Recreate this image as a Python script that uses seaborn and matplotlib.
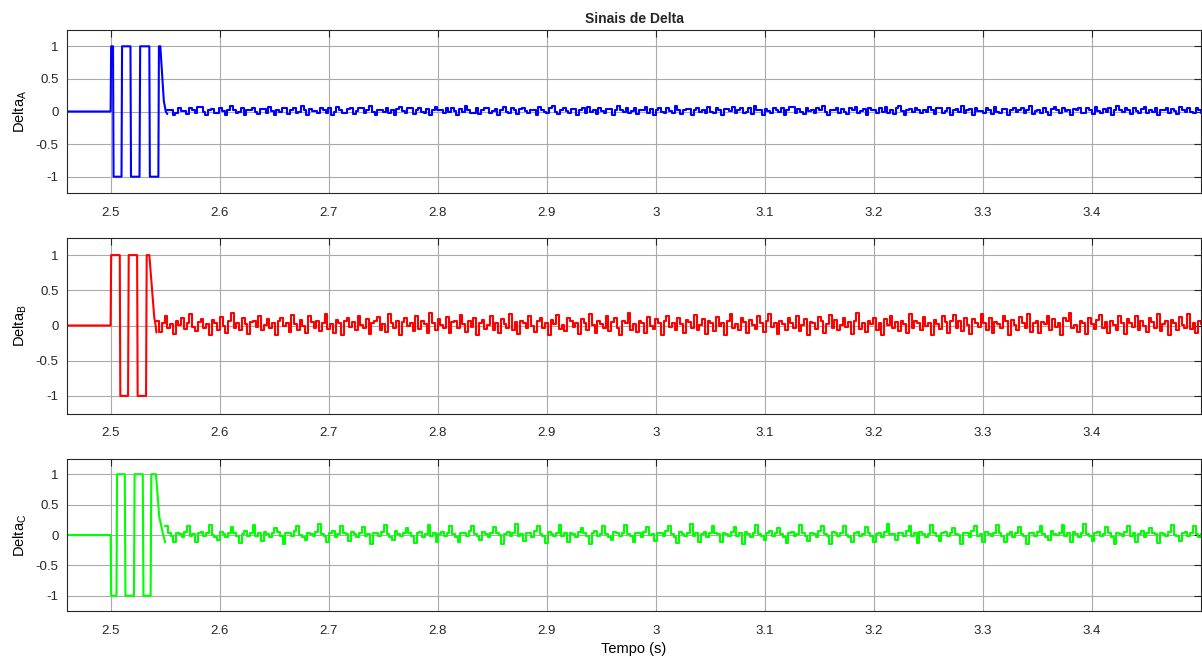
import numpy as np
import pandas as pd
import matplotlib
matplotlib.use("Agg")
import matplotlib.pyplot as plt
import seaborn as sns

# ---- x axis ----
x_limits = [2.46, 3.5]
x_ticks = [2.5, 2.6, 2.7, 2.8, 2.9, 3.0, 3.1, 3.2, 3.3, 3.4]
x_tick_labels = ["2.5", "2.6", "2.7", "2.8", "2.9", "3", "3.1", "3.2", "3.3", "3.4"]
y_ticks = [-1, -0.5, 0, 0.5, 1]
y_tick_labels = ["-1", "-0.5", "0", "0.5", "1"]

# ---- switching transient (time, value) ----
delta_a_t = [2.46, 2.5, 2.5005, 2.5022, 2.5027, 2.5100, 2.5105, 2.5182, 2.5187,
             2.5265, 2.5271, 2.5355, 2.5360, 2.5438, 2.5443, 2.5456, 2.5488,
             2.5506, 2.552]
delta_a_v = [0, 0, 1, 1, -1, -1, 1, 1, -1, -1, 1, 1, -1, -1, 1, 1, 0.16, 0.0, -0.04]

delta_b_t = [2.46, 2.5, 2.5005, 2.5084, 2.5089, 2.5160, 2.5166, 2.5243, 2.5248,
             2.5325, 2.5331, 2.5355, 2.5400, 2.5413, 2.5420]
delta_b_v = [0, 0, 1, 1, -1, -1, 1, 1, -1, -1, 1, 1, 0.12, 0.0, -0.10]

delta_c_t = [2.46, 2.5, 2.5005, 2.5054, 2.5059, 2.5130, 2.5136, 2.5214, 2.5220,
             2.5295, 2.5301, 2.5367, 2.5373, 2.5416, 2.5446, 2.5476, 2.5500]
delta_c_v = [0, 0, -1, -1, 1, 1, -1, -1, 1, 1, -1, -1, 1, 1, 0.30, 0.05, -0.12]

# ---- steady-state ripple samples ----
ripple_a_start = 2.552
ripple_a = [
    0.03, 0.03, -0.05, -0.02, 0.06, 0.01, 0.01, -0.04, 0.05, 0.02,
    -0.03, 0.07, 0.07, 0.00, -0.06, 0.02, 0.04, -0.02, -0.02, 0.06,
    0.01, -0.05, 0.03, 0.08, 0.03, -0.03, 0.00, 0.05, -0.06, 0.02,
    0.02, 0.06, -0.01, -0.04, 0.04, 0.04, -0.02, 0.07, 0.01, -0.05,
    0.03, -0.01, 0.06, 0.06, -0.04, 0.02, 0.05, -0.03, 0.00, 0.08,
    0.02, -0.06, 0.04, 0.01, 0.01, -0.03, 0.06, 0.03, -0.02, 0.05,
    -0.05, 0.00, 0.07, 0.02, -0.02, -0.02, 0.04, 0.06, -0.04, 0.01,
    0.05, 0.05, -0.03, 0.02, 0.08, -0.01, -0.06, 0.03, 0.03, 0.00,
    0.06, -0.02, 0.02, -0.05, 0.04, 0.07, 0.01, -0.03, 0.05, 0.05,
    -0.04, 0.02, 0.06, 0.00, -0.02, 0.04, -0.06, 0.03, 0.07, 0.02,
    0.02, -0.03, 0.05, -0.01, 0.06, 0.01, -0.05, 0.04, 0.00, 0.08,
    0.03, -0.02, -0.02, 0.05, -0.04, 0.02, 0.06, 0.06, -0.03, 0.01,
    0.04, -0.06, 0.03, 0.07, 0.00, -0.02, 0.05, 0.02, -0.04, 0.04,
    0.06, 0.01, -0.03, 0.03, 0.03, -0.05, 0.07, 0.02, 0.00, -0.02,
    0.05, 0.08, -0.01, -0.04, 0.02, 0.06, 0.01, -0.03, 0.04, 0.04,
    -0.06, 0.02, 0.05, -0.02, 0.07, 0.00, 0.03, -0.04, 0.06, 0.01,
    -0.02, 0.04, 0.04, -0.05, 0.03, 0.08, 0.02, -0.01, 0.05, -0.03,
    0.01, 0.06, -0.04, 0.02, 0.02, 0.07, -0.02, 0.04, -0.06, 0.03,
    0.05, 0.00, -0.03, 0.06, 0.01, -0.02, 0.08, 0.03, -0.04, 0.02,
    0.04, 0.04, -0.05, 0.03, 0.06, -0.01, 0.02, -0.03, 0.07, 0.00,
    -0.02, 0.05, 0.02, -0.06, 0.04, 0.04, 0.01, 0.07, -0.03, 0.03,
    0.06, -0.02, 0.00, 0.05, -0.04, 0.08, 0.02, 0.02, -0.05, 0.04,
    0.01, -0.03, 0.06, 0.03, -0.01, 0.05, -0.06, 0.02, 0.07, 0.07,
    -0.02, 0.04, 0.00, -0.04, 0.06, 0.01, 0.03, -0.03, 0.05, 0.02,
    0.08, -0.01, -0.05, 0.03, 0.03, 0.06, -0.02, 0.04, 0.00, -0.04,
    0.05, 0.02, 0.07, -0.03, 0.01, 0.04, -0.06, 0.06, 0.02, 0.02,
    -0.03, 0.05, 0.00, 0.07, -0.02, 0.03, -0.04, 0.05, 0.08, 0.01,
    -0.05, 0.03, 0.04, -0.01, 0.06, 0.02, -0.03, 0.03, 0.00, 0.07,
    0.02, -0.04, 0.05, 0.05, -0.02, 0.01, 0.06, -0.05, 0.03, 0.04,
    0.00, 0.08, -0.03, 0.02, 0.04, -0.06, 0.05, 0.01, 0.01, -0.02,
    0.06, 0.03, -0.04, 0.07, 0.00, -0.02, 0.04, 0.04, -0.05, 0.02,
    0.05, -0.01, 0.03, 0.06, -0.03, 0.02, 0.08, -0.04, 0.01, 0.03,
    -0.02, 0.06, 0.00, -0.05, 0.04, 0.07, 0.02, -0.03, 0.05, 0.01,
    0.03, -0.06, 0.04, 0.02, 0.06, -0.02, -0.02, 0.05, 0.03, -0.04,
    0.07, 0.01, -0.03, 0.04, 0.00, 0.06, -0.05, 0.02, 0.08, 0.02,
    -0.01, 0.05, 0.03, -0.04, 0.06, 0.01, -0.02, 0.04, 0.07, -0.03,
    0.02, 0.00, 0.05, -0.06, 0.03, 0.03, 0.06, -0.02, 0.04, 0.01,
    -0.04, 0.07, 0.02, -0.01, 0.05, 0.00, -0.03, 0.06, 0.02, -0.02,
]

ripple_b_start = 2.542
ripple_b = [
    0.06, -0.09, 0.04, 0.13, -0.03, 0.02, -0.12, 0.07, 0.01, 0.10,
    -0.05, 0.03, 0.16, -0.02, -0.08, 0.05, 0.09, -0.04, 0.02, -0.13,
    0.08, 0.04, -0.06, 0.12, 0.00, -0.10, 0.06, 0.18, -0.03, 0.03,
    -0.07, 0.10, 0.02, -0.12, 0.05, 0.07, -0.02, 0.14, -0.06, 0.01,
    0.09, -0.04, 0.03, -0.14, 0.06, 0.11, -0.01, 0.04, -0.09, 0.15,
    0.02, -0.06, 0.08, 0.00, -0.11, 0.13, 0.05, -0.03, 0.07, -0.08,
    0.04, 0.17, -0.05, 0.02, -0.10, 0.08, 0.03, -0.13, 0.06, 0.11,
    -0.02, 0.05, -0.07, 0.14, 0.01, -0.04, 0.09, -0.12, 0.03, 0.06,
    0.12, -0.06, 0.02, -0.09, 0.16, 0.04, -0.03, 0.07, -0.14, 0.05,
    0.10, -0.01, 0.03, -0.08, 0.13, -0.05, 0.06, 0.02, -0.11, 0.18,
    0.04, -0.07, 0.09, 0.01, -0.03, 0.12, -0.10, 0.05, 0.07, -0.04,
    0.15, 0.02, -0.09, 0.06, -0.02, 0.11, -0.13, 0.03, 0.08, -0.05,
    0.01, 0.14, -0.06, 0.04, -0.11, 0.09, 0.02, -0.03, 0.17, -0.07,
    0.05, -0.12, 0.07, 0.03, -0.04, 0.13, 0.00, -0.09, 0.06, 0.10,
    -0.03, 0.04, -0.14, 0.08, 0.02, 0.15, -0.05, 0.01, -0.08, 0.11,
    0.06, -0.02, 0.03, -0.12, 0.09, 0.04, -0.06, 0.16, 0.01, -0.10,
    0.07, 0.02, -0.04, 0.13, -0.08, 0.05, 0.10, -0.03, -0.13, 0.06,
    0.03, 0.18, -0.06, 0.02, -0.09, 0.07, 0.04, -0.11, 0.12, 0.00,
    -0.05, 0.09, 0.03, -0.14, 0.06, 0.14, -0.02, 0.04, -0.07, 0.11,
    0.02, -0.10, 0.08, 0.05, -0.03, 0.15, -0.06, 0.01, 0.09, -0.12,
    0.06, 0.03, -0.08, 0.12, -0.01, 0.04, -0.13, 0.07, 0.16, -0.04,
    0.02, -0.07, 0.10, 0.05, -0.11, 0.08, 0.01, -0.05, 0.13, 0.03,
    -0.09, 0.06, 0.17, -0.02, 0.04, -0.12, 0.07, 0.02, -0.06, 0.11,
    0.04, -0.03, 0.14, -0.08, 0.01, 0.09, -0.14, 0.05, 0.03, -0.05,
    0.12, 0.06, -0.10, 0.02, 0.15, -0.04, 0.08, -0.07, 0.01, 0.10,
    -0.02, 0.05, -0.12, 0.07, 0.18, -0.05, 0.03, -0.09, 0.06, 0.02,
    0.11, -0.06, 0.04, -0.13, 0.09, 0.01, 0.14, -0.03, 0.05, -0.08,
    0.07, 0.02, -0.11, 0.16, -0.04, 0.06, 0.03, -0.07, 0.12, -0.01,
    0.04, -0.14, 0.08, 0.02, -0.05, 0.13, 0.05, -0.10, 0.07, 0.15,
    -0.03, 0.06, -0.08, 0.10, 0.01, -0.12, 0.09, 0.04, -0.02, 0.17,
    0.03, -0.06, 0.11, -0.10, 0.05, 0.02, -0.04, 0.14, 0.06, -0.13,
    0.08, 0.01, -0.07, 0.12, 0.03, -0.03, 0.16, -0.09, 0.04, 0.07,
    -0.11, 0.05, 0.02, 0.13, -0.06, 0.09, -0.02, 0.04, -0.14, 0.10,
    0.06, 0.18, -0.04, 0.01, -0.09, 0.07, 0.03, -0.12, 0.11, 0.02,
    -0.05, 0.08, 0.15, -0.03, 0.05, -0.10, 0.06, 0.01, -0.07, 0.13,
    0.03, -0.12, 0.09, 0.04, -0.02, 0.14, -0.06, 0.07, 0.00, -0.09,
    0.11, 0.05, -0.04, 0.16, -0.08, 0.02, 0.06, -0.13, 0.08, 0.03,
    -0.06, 0.12, 0.01, -0.03, 0.17, -0.05, 0.04, -0.10, 0.07, 0.02,
]

ripple_c_start = 2.550
ripple_c = [
    0.15, 0.03, -0.02, -0.11, 0.04, 0.01, -0.03, 0.05, 0.14, -0.01,
    0.02, -0.12, 0.03, 0.05, -0.02, 0.04, 0.17, 0.00, -0.03, -0.09,
    0.05, 0.02, -0.04, 0.03, 0.13, 0.04, -0.02, -0.13, 0.02, 0.06,
    -0.01, 0.04, 0.16, -0.02, 0.03, -0.10, 0.05, 0.01, -0.04, 0.03,
    0.12, 0.05, -0.01, -0.14, 0.03, 0.04, -0.02, 0.06, 0.15, 0.00,
    -0.03, -0.08, 0.04, 0.02, -0.01, 0.05, 0.18, 0.02, -0.02, -0.12,
    0.03, 0.06, -0.03, 0.02, 0.14, 0.03, 0.01, -0.10, 0.05, 0.02,
    -0.04, 0.04, 0.13, -0.01, 0.02, -0.15, 0.04, 0.03, -0.02, 0.05,
    0.16, 0.02, -0.03, -0.09, 0.06, 0.01, -0.01, 0.04, 0.12, 0.03,
    -0.02, -0.13, 0.04, 0.05, -0.03, 0.02, 0.17, -0.01, 0.03, -0.11,
    0.02, 0.05, -0.02, 0.04, 0.14, 0.01, -0.04, -0.12, 0.03, 0.04,
    -0.01, 0.06, 0.15, 0.02, -0.02, -0.09, 0.05, 0.02, -0.03, 0.03,
    0.13, 0.04, 0.00, -0.14, 0.02, 0.05, -0.02, 0.03, 0.18, -0.01,
    0.02, -0.10, 0.04, 0.03, -0.04, 0.06, 0.14, 0.01, -0.02, -0.13,
    0.05, 0.02, -0.01, 0.04, 0.16, -0.02, 0.03, -0.11, 0.04, 0.01,
    -0.03, 0.05, 0.12, 0.03, -0.02, -0.14, 0.03, 0.06, -0.01, 0.02,
    0.15, 0.01, -0.04, -0.09, 0.05, 0.03, -0.02, 0.04, 0.17, 0.02,
    -0.01, -0.12, 0.03, 0.04, -0.03, 0.05, 0.13, 0.00, 0.02, -0.10,
    0.04, 0.03, -0.02, 0.06, 0.15, 0.02, -0.03, -0.13, 0.05, 0.01,
    -0.02, 0.03, 0.18, -0.01, 0.04, -0.11, 0.02, 0.05, -0.04, 0.03,
    0.14, 0.04, 0.01, -0.12, 0.03, 0.02, -0.01, 0.05, 0.13, -0.02,
    0.03, -0.15, 0.05, 0.02, -0.03, 0.04, 0.16, 0.02, -0.01, -0.09,
    0.04, 0.06, -0.02, 0.03, 0.12, 0.01, -0.04, -0.13, 0.03, 0.05,
    -0.01, 0.02, 0.17, 0.03, -0.02, -0.10, 0.04, 0.01, -0.03, 0.06,
    0.15, 0.02, -0.01, -0.14, 0.05, 0.03, -0.02, 0.04, 0.14, 0.00,
    -0.03, -0.11, 0.04, 0.05, -0.01, 0.02, 0.13, 0.03, -0.02, -0.12,
    0.02, 0.04, -0.03, 0.05, 0.18, 0.01, 0.02, -0.09, 0.04, 0.03,
    -0.02, 0.06, 0.14, -0.01, 0.03, -0.13, 0.05, 0.02, -0.04, 0.02,
    0.16, 0.03, -0.02, -0.10, 0.04, 0.05, -0.01, 0.03, 0.12, 0.02,
    0.00, -0.14, 0.03, 0.04, -0.03, 0.06, 0.15, -0.02, 0.01, -0.11,
    0.05, 0.02, -0.01, 0.03, 0.17, 0.04, -0.02, -0.12, 0.02, 0.05,
    -0.03, 0.04, 0.13, 0.02, -0.01, -0.15, 0.03, 0.04, -0.02, 0.05,
    0.14, 0.01, -0.03, -0.09, 0.06, 0.02, 0.00, 0.04, 0.16, -0.01,
    0.03, -0.12, 0.05, 0.02, -0.04, 0.03, 0.18, 0.01, -0.02, -0.10,
    0.04, 0.05, -0.02, 0.02, 0.13, 0.03, -0.03, -0.14, 0.04, 0.02,
    -0.01, 0.05, 0.15, -0.02, 0.03, -0.11, 0.02, 0.06, -0.03, 0.04,
    0.12, 0.03, 0.01, -0.13, 0.04, 0.02, -0.02, 0.05, 0.17, 0.00,
    -0.02, -0.10, 0.03, 0.05, -0.01, 0.04, 0.14, 0.02, -0.03, 0.01,
]

ylabels = ["Delta$_\\mathregular{A}$", "Delta$_\\mathregular{B}$", "Delta$_\\mathregular{C}$"]
colors = ["#0000ff", "#ff0000", "#00ff00"]

sns.set_style("white")
plt.rcParams["font.family"] = ["Liberation Sans", "DejaVu Sans"]
plt.rcParams["mathtext.fontset"] = "custom"
plt.rcParams["mathtext.rm"] = "Liberation Sans"

fig = plt.figure(figsize=(12.02, 6.60), dpi=100)
W, H = 1202.0, 660.0

# axes boxes in pixels: (left, top, right, bottom)
boxes = [(67, 30, 1201, 193), (67, 237.5, 1201, 413.5), (67, 459, 1201, 611)]

series = [
    (delta_a_t, delta_a_v, ripple_a_start, ripple_a),
    (delta_b_t, delta_b_v, ripple_b_start, ripple_b),
    (delta_c_t, delta_c_v, ripple_c_start, ripple_c),
]

text_color = "#262626"
axes = []
for i, ((l, t, r, b), (tt, tv, rs, rv)) in enumerate(zip(boxes, series)):
    ax = fig.add_axes([l / W, 1 - b / H, (r - l) / W, (b - t) / H])
    axes.append(ax)

    trans = pd.DataFrame({"t": tt, "v": tv})
    sns.lineplot(data=trans, x="t", y="v", ax=ax, color=colors[i], lw=1.5,
                 sort=False, estimator=None)

    rip_t = np.linspace(rs, x_limits[1], len(rv))
    rip = pd.DataFrame({"t": rip_t, "v": rv})
    sns.lineplot(data=rip, x="t", y="v", ax=ax, color=colors[i], lw=1.5,
                 sort=False, estimator=None, drawstyle="steps-post")

    ax.set_xlim(x_limits)
    ax.set_ylim(-1.25, 1.25)
    ax.set_xticks(x_ticks)
    ax.set_xticklabels(x_tick_labels)
    ax.set_yticks(y_ticks)
    ax.set_yticklabels(y_tick_labels)
    ax.grid(True, color="#aaaaaa", lw=0.8)
    ax.set_axisbelow(True)
    ax.tick_params(direction="in", length=5, width=0.8, color=text_color,
                   labelcolor=text_color, labelsize=9.5,
                   top=True, right=True, pad=6)
    ax.tick_params(axis="x", pad=10)
    for s in ax.spines.values():
        s.set_visible(True)
        s.set_color(text_color)
        s.set_linewidth(0.8)
    ax.set_ylabel(ylabels[i], fontsize=10.5, color="#000000", labelpad=5)
    ax.set_xlabel("")

axes[0].set_title("Sinais de Delta", fontsize=10, fontweight="bold", pad=5)
axes[2].set_xlabel("Tempo (s)", fontsize=10.5, color="#000000", labelpad=4)

fig.savefig("out.png", dpi=100)
